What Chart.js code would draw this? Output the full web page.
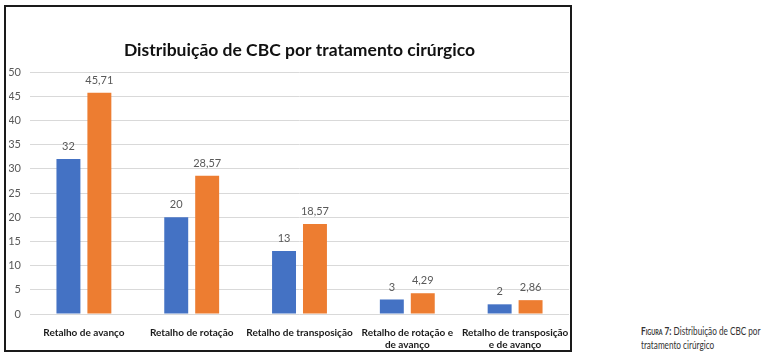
<!DOCTYPE html>
<html>
<head>
<meta charset="utf-8">
<script src="https://cdn.jsdelivr.net/npm/chart.js@4"></script>
<style>
  body { margin: 0; background: #fff; width: 764px; height: 363px; position: relative; overflow: hidden; }
  #frame { position: absolute; left: 4px; top: 5px; width: 568px; height: 347px; border: 2px solid #1a1a1a; box-sizing: border-box; }
  #frame canvas { display: block; }
  #caption { position: absolute; left: 641px; top: 324px; font-family: Lato, "Open Sans", sans-serif; font-size: 10.5px; line-height: 14px; color: #333; white-space: nowrap; transform: scaleX(0.78); transform-origin: left top; }
  #caption b { font-variant: small-caps; font-weight: 700; }
</style>
</head>
<body>
<div id="frame"><canvas id="chart" width="564" height="343"></canvas></div>
<div id="caption"><b>Figura 7:</b> Distribuição de CBC por<br>tratamento cirúrgico</div>
<script>
// Distribuição de CBC por tratamento cirúrgico
const categories = [
    'Retalho de avanço',
    'Retalho de rotação',
    'Retalho de transposição',
    ['Retalho de rotação e', 'de avanço'],
    ['Retalho de transposição', 'e de avanço']
];
const countValues = [32, 20, 13, 3, 2];
const percentValues = [45.71, 28.57, 18.57, 4.29, 2.86];
const yTicks = [0, 5, 10, 15, 20, 25, 30, 35, 40, 45, 50];

// Draw value labels above each bar
const valueLabels = {
    id: 'valueLabels',
    afterDatasetsDraw(chart) {
        const ctx = chart.ctx;
        ctx.save();
        ctx.font = '11px Lato, "Liberation Sans", sans-serif';
        ctx.fillStyle = '#595959';
        ctx.textAlign = 'center';
        ctx.textBaseline = 'bottom';
        chart.data.datasets.forEach((ds, i) => {
            chart.getDatasetMeta(i).data.forEach((bar, j) => {
                const txt = String(ds.data[j]).replace('.', ',');
                ctx.fillText(txt, bar.x, bar.y - 7);
            });
        });
        ctx.restore();
    }
};

const ctx = document.getElementById('chart').getContext('2d');
new Chart(ctx, {
    type: 'bar',
    data: {
        labels: categories,
        datasets: [
            { label: 'N', data: countValues, backgroundColor: '#4472C4', categoryPercentage: 0.574, barPercentage: 0.774 },
            { label: '%', data: percentValues, backgroundColor: '#ED7D31', categoryPercentage: 0.574, barPercentage: 0.774 }
        ]
    },
    options: {
        responsive: false,
        animation: false,
        layout: { padding: { left: 3, right: 1, top: 0, bottom: 0 } },
        plugins: {
            legend: { display: false },
            tooltip: { enabled: false },
            title: {
                display: true,
                fullSize: false,
                text: 'Distribuição de CBC por tratamento cirúrgico',
                color: '#111',
                font: { family: 'Lato, "Liberation Sans", sans-serif', size: 17.5, weight: 'bold' },
                padding: { top: 33, bottom: 11 }
            }
        },
        scales: {
            x: {
                grid: { display: false, drawTicks: false },
                border: { display: false },
                afterFit(axis) { axis.paddingLeft = 0; axis.paddingRight = 0; axis.height = 36; },
                ticks: {
                    color: '#1a1a1a',
                    padding: 13,
                    maxRotation: 0,
                    autoSkip: false,
                    font: { family: 'Lato, "Liberation Sans", sans-serif', size: 10, weight: 'bold', lineHeight: 1.2 }
                }
            },
            y: {
                min: 0,
                max: 50,
                afterBuildTicks(axis) { axis.ticks = yTicks.map(v => ({ value: v })); },
                afterFit(axis) { axis.width = 21; },
                grid: { color: '#d9d9d9', lineWidth: 1, drawTicks: false },
                border: { display: false },
                ticks: {
                    color: '#595959',
                    padding: 9,
                    font: { family: 'Lato, "Liberation Sans", sans-serif', size: 11 }
                }
            }
        }
    },
    plugins: [valueLabels]
});
</script>
</body>
</html>
